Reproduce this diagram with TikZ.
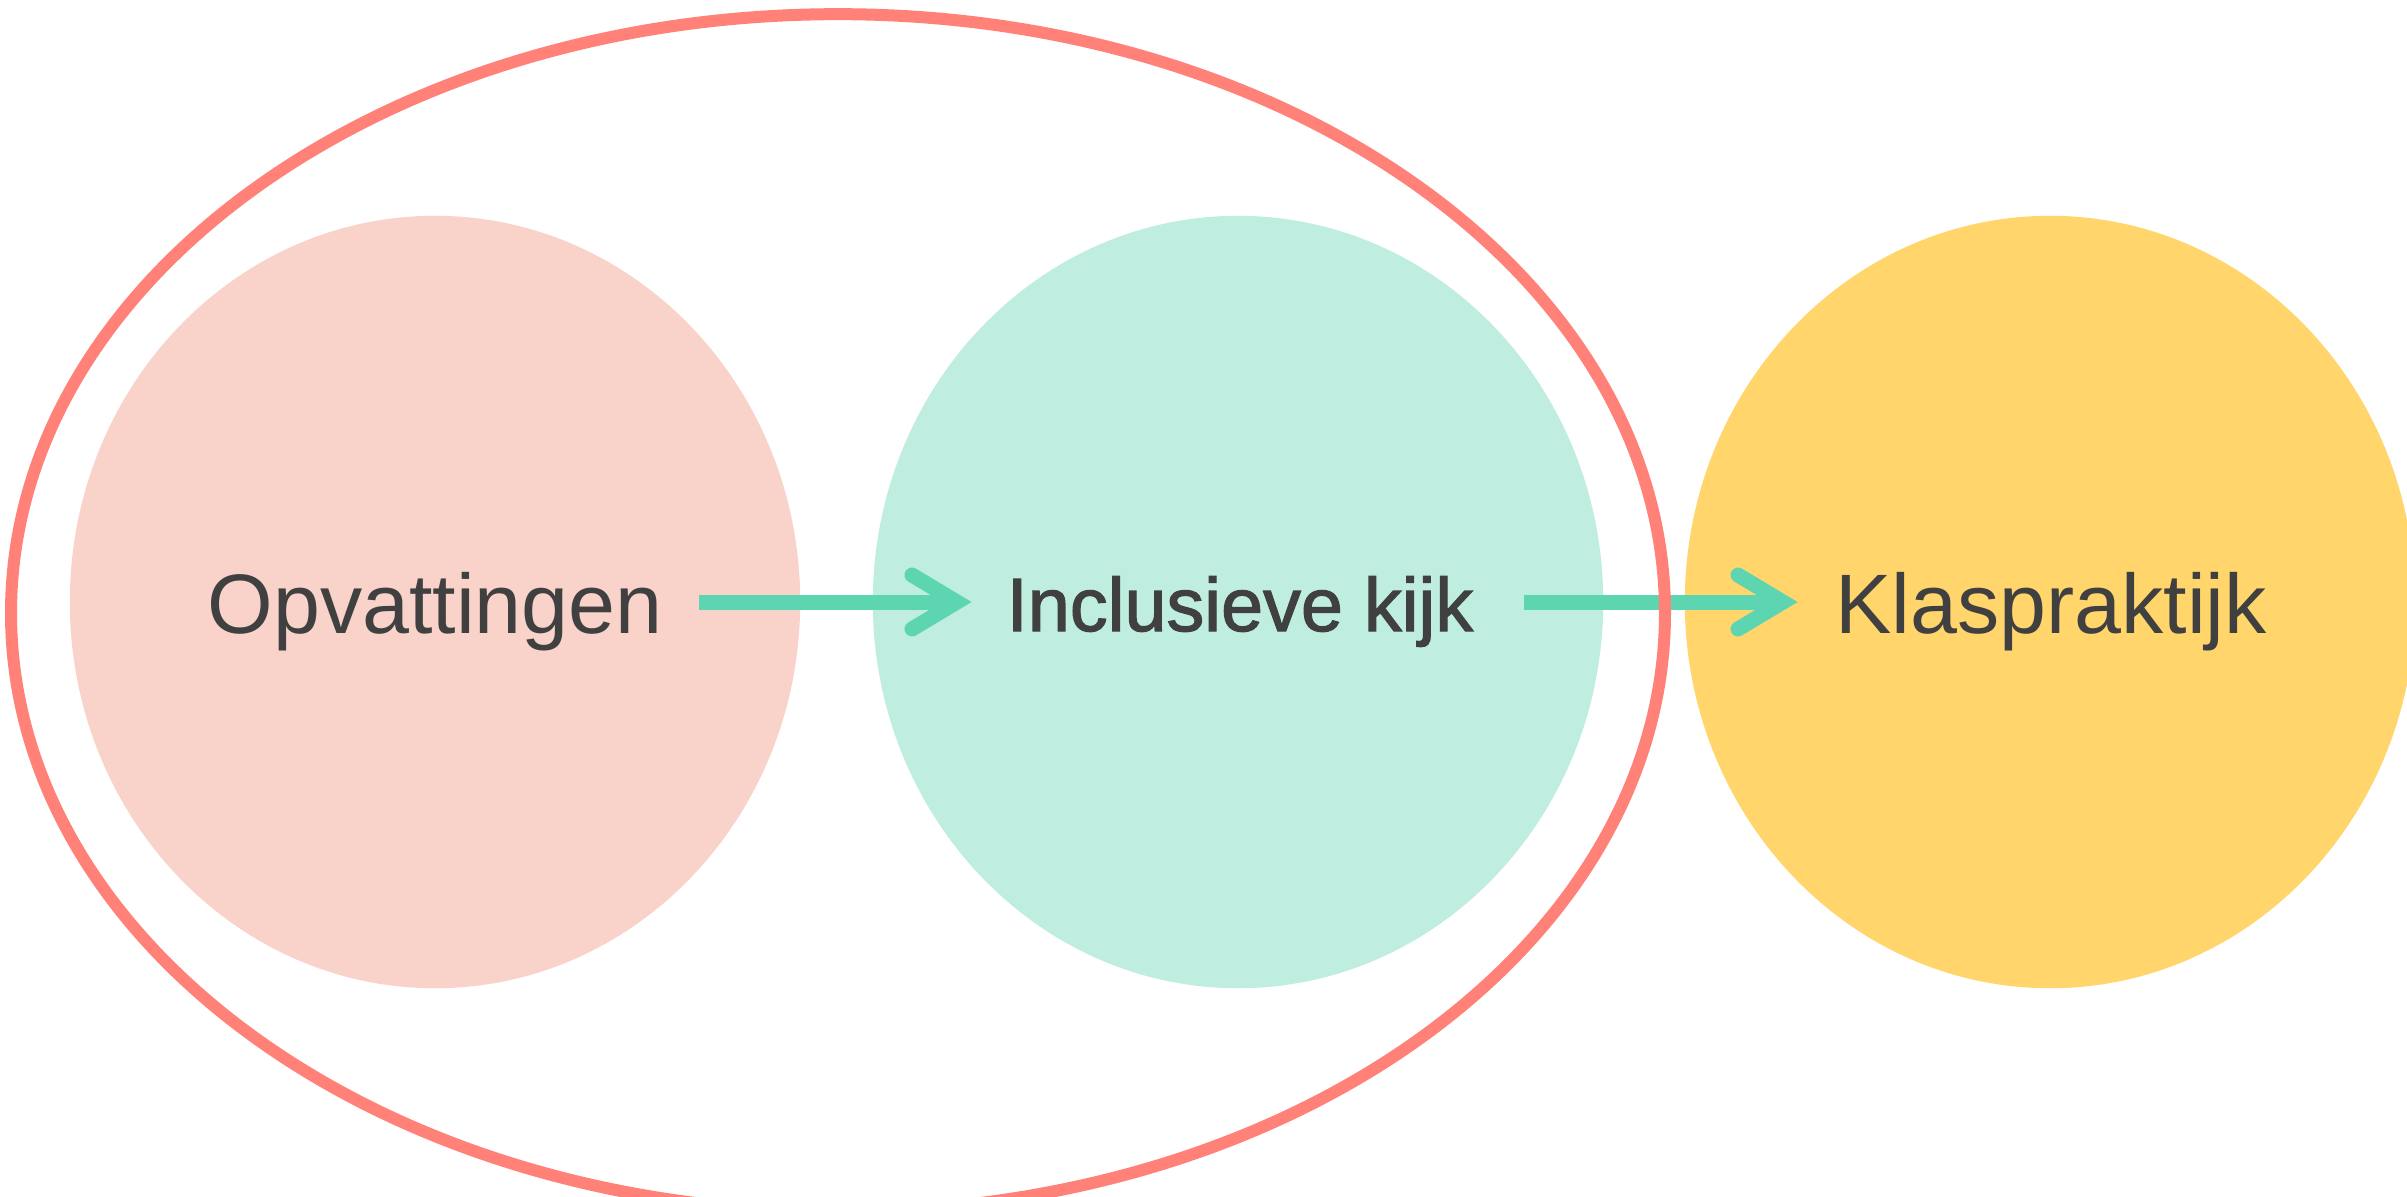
\documentclass[tikz,border=0pt]{standalone}
\usepackage{fontspec}
\setmainfont{Liberation Sans}
\newfontfamily\medfont{Liberation Sans}[FakeBold=1.6]
\usetikzlibrary{shapes.geometric}
\definecolor{ringred}{HTML}{FF8178}
\definecolor{pinkfill}{HTML}{F9D3CA}
\definecolor{mintfill}{HTML}{BFEDE0}
\definecolor{yellowfill}{HTML}{FFD56C}
\definecolor{arrowmint}{HTML}{5DD5B0}
\definecolor{txt}{HTML}{404040}
\tikzset{
  blob/.style={ellipse, draw=none, minimum width=7.3cm, minimum height=7.72cm, inner sep=0pt},
  lbl/.style={anchor=base, text=txt, inner sep=0pt, font=\fontsize{24}{28}\selectfont},
  shaft/.style={draw=arrowmint, line width=0.15cm, line cap=butt},
  head/.style={draw=arrowmint, line width=0.15cm, line cap=round, line join=miter},
  ring/.style={draw=ringred, line width=0.12cm}
}
\begin{document}
\begin{tikzpicture}[x=0.01cm, y=-0.01cm]
\useasboundingbox (0,0) rectangle (2407,1196);
\clip (0,0) rectangle (2407,1196);
% blobs
\node[blob, fill=pinkfill] (opv) at (435,602) {};
\node[blob, fill=mintfill] (inc) at (1238,602) {};
\node[blob, fill=yellowfill] (kla) at (2050,602) {};
% labels
\node[lbl] (opvtxt) at (435,633) {Opvattingen};
\node[lbl, font=\medfont\fontsize{21.5}{26}\selectfont] (inctxt) at (1240,631) {Inclusieve kijk};
\node[lbl] (klatxt) at (2051,633) {Klaspraktijk};
% arrow coordinates
\coordinate (a1s) at (699,602);
\coordinate (a1e) at (957,602);
\coordinate (a2s) at (1524,602);
\coordinate (a2e) at (1783,602);
\draw[shaft] (a1s) -- (a1e);
\draw[head] ([shift={(-45,-27)}]a1e) -- (a1e) -- ([shift={(-45,27)}]a1e);
\draw[shaft] (a2s) -- (a2e);
\draw[head] ([shift={(-45,-27)}]a2e) -- (a2e) -- ([shift={(-45,27)}]a2e);
% enclosing ring
\node[ellipse, ring, minimum width=16.53cm, minimum height=11.97cm, inner sep=0pt] (ring) at (838,613) {};
\end{tikzpicture}
\end{document}
